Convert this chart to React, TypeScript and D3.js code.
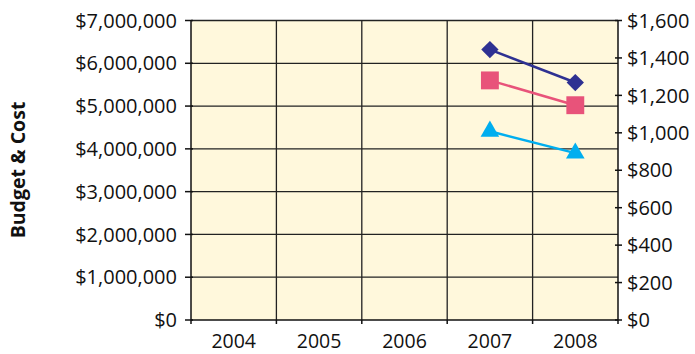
import React from "react";
import * as d3 from "d3";

const years = ["2004", "2005", "2006", "2007", "2008"];
const leftTicks = [0, 1000000, 2000000, 3000000, 4000000, 5000000, 6000000, 7000000];
const rightTicks = [0, 200, 400, 600, 800, 1000, 1200, 1400, 1600];
const seriesYears = ["2007", "2008"];
const diamondValues = [6320000, 5550000];
const squareValues = [5600000, 5020000];
const triangleValues = [4410000, 3900000];

const W = 695, H = 354;
const M = { left: 191, right: 618, top: 20.5, bottom: 320 };
const FONT = "'Open Sans', sans-serif";

export default function App() {
  const x = d3.scaleBand().domain(years).range([M.left, M.right]);
  const yL = d3.scaleLinear().domain([0, 7000000]).range([M.bottom, M.top]);
  const yR = d3.scaleLinear().domain([0, 1600]).range([M.bottom, M.top]);
  const fmtL = (v: number) => "$" + d3.format(",")(v);
  const line = d3.line<number>().x((_, i) => x(seriesYears[i])! + x.bandwidth() / 2).y((d) => yL(d));
  const pts = (vals: number[]) => vals.map((v, i) => [x(seriesYears[i])! + x.bandwidth() / 2, yL(v)]);
  const diamond = d3.symbol(d3.symbolSquare, 150)();
  const square = d3.symbol(d3.symbolSquare, 320)();
  const tri = d3.symbol(d3.symbolTriangle, 150)();
  const boundaries = years.map((y) => x(y)!).concat([M.right]);
  return (
    <svg width={W} height={H} style={{ position: "absolute", left: 0, top: 0 }}>
      <rect x={M.left} y={M.top} width={M.right - M.left} height={M.bottom - M.top} fill="#FFF8DC" />
      {leftTicks.slice(1).map((t) => (
        <line key={"h" + t} x1={M.left} x2={M.right} y1={yL(t)} y2={yL(t)} stroke="#222" strokeWidth={1.3} />
      ))}
      {boundaries.slice(1, -1).map((b, i) => (
        <line key={"v" + i} x1={b} x2={b} y1={M.top} y2={M.bottom} stroke="#222" strokeWidth={1.3} />
      ))}
      {/* axes */}
      <line x1={M.left} x2={M.left} y1={M.top} y2={M.bottom} stroke="#111" strokeWidth={1.5} />
      <line x1={M.right} x2={M.right} y1={M.top} y2={M.bottom} stroke="#111" strokeWidth={1.5} />
      <line x1={M.left} x2={M.right} y1={M.bottom} y2={M.bottom} stroke="#111" strokeWidth={1.5} />
      {leftTicks.map((t) => (
        <g key={"l" + t}>
          <line x1={M.left - 6} x2={M.left + 2} y1={yL(t)} y2={yL(t)} stroke="#111" strokeWidth={1.5} />
          <text x={M.left - 14} y={yL(t)} dy="0.36em" textAnchor="end" fontFamily={FONT} fontSize={20} fill="#111">
            {fmtL(t)}
          </text>
        </g>
      ))}
      {rightTicks.map((t) => (
        <g key={"r" + t}>
          <line x1={M.right - 3} x2={M.right + 4} y1={yR(t)} y2={yR(t)} stroke="#111" strokeWidth={1.5} />
          <text x={M.right + 9} y={yR(t)} dy="0.36em" textAnchor="start" fontFamily={FONT} fontSize={20} fill="#111">
            {"$" + d3.format(",")(t)}
          </text>
        </g>
      ))}
      {boundaries.map((b, i) => (
        <line key={"bt" + i} x1={b} x2={b} y1={M.bottom} y2={M.bottom + 4} stroke="#111" strokeWidth={1.5} />
      ))}
      {years.map((y) => (
        <text key={y} x={x(y)! + x.bandwidth() / 2} y={348} textAnchor="middle" fontFamily={FONT} fontSize={19.5} fill="#111">
          {y}
        </text>
      ))}
      <text transform={`translate(25,170) rotate(-90)`} textAnchor="middle" fontFamily={FONT} fontWeight="bold" fontSize={19.5} fill="#111">
        Budget &amp; Cost
      </text>
      {/* series */}
      <path d={line(diamondValues)!} fill="none" stroke="#2E3192" strokeWidth={2.5} />
      <path d={line(squareValues)!} fill="none" stroke="#E8537A" strokeWidth={2.5} />
      <path d={line(triangleValues)!} fill="none" stroke="#00AEEF" strokeWidth={2.5} />
      {pts(diamondValues).map(([px, py], i) => (
        <path key={"d" + i} d={diamond!} transform={`translate(${px},${py}) rotate(45)`} fill="#2E3192" />
      ))}
      {pts(squareValues).map(([px, py], i) => (
        <path key={"s" + i} d={square!} transform={`translate(${px},${py})`} fill="#E8537A" />
      ))}
      {pts(triangleValues).map(([px, py], i) => (
        <path key={"t" + i} d={tri!} transform={`translate(${px},${py})`} fill="#00AEEF" />
      ))}
    </svg>
  );
}
